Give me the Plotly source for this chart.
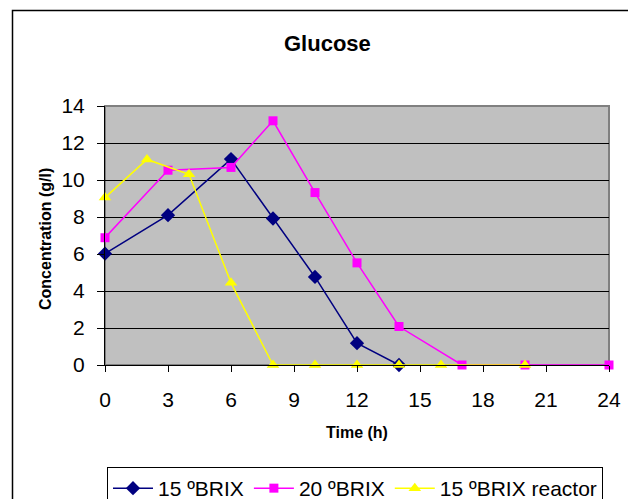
import plotly.graph_objects as go

# Data
t_15 = [0, 3, 6, 8, 10, 12, 14]
g_15 = [6.02, 8.1, 11.13, 7.92, 4.76, 1.18, 0.0]

t_20 = [0, 3, 6, 8, 10, 12, 14, 17, 20, 24]
g_20 = [6.88, 10.53, 10.68, 13.2, 9.32, 5.52, 2.08, 0.0, 0.0, 0.0]

t_r = [0, 2, 4, 6, 8, 10, 12, 14, 16, 20]
g_r = [9.05, 11.11, 10.31, 4.44, 0.0, 0.0, 0.0, 0.0, 0.0, 0.0]

names = ["15 ºBRIX", "20 ºBRIX", "15 ºBRIX reactor"]
x_ticks = [0, 3, 6, 9, 12, 15, 18, 21, 24]
y_ticks = [0, 2, 4, 6, 8, 10, 12, 14]

FONT = "Arial, Liberation Sans, sans-serif"

# plot area in pixels
L, R, T, B = 105, 609, 106, 365
W, H = 628, 499
def px(x):
    return (x - L) / (R - L)
def py(y):
    return (B - y) / (B - T)

fig = go.Figure()
fig.add_trace(go.Scatter(x=t_15, y=g_15, name=names[0], mode="lines+markers",
                         line=dict(color="#000080", width=1.5),
                         marker=dict(symbol="diamond", size=11, color="#000080"),
                         cliponaxis=False))
fig.add_trace(go.Scatter(x=t_20, y=g_20, name=names[1], mode="lines+markers",
                         line=dict(color="#FF00FF", width=1.5),
                         marker=dict(symbol="square", size=9, color="#FF00FF"),
                         cliponaxis=False))
fig.add_trace(go.Scatter(x=t_r, y=g_r, name=names[2], mode="lines+markers",
                         line=dict(color="#FFFF00", width=1.5),
                         marker=dict(symbol="triangle-up", size=11, color="#FFFF00"),
                         cliponaxis=False))

fig.update_layout(
    width=W, height=H,
    margin=dict(l=L, r=W - R, t=T, b=H - B, autoexpand=False),
    paper_bgcolor="white",
    plot_bgcolor="#C0C0C0",
    font=dict(family=FONT, size=21, color="black"),
    showlegend=True,
    legend=dict(orientation="h", x=px(107), y=py(467), xanchor="left", yanchor="top",
                bordercolor="black", borderwidth=1, bgcolor="white",
                font=dict(family=FONT, size=21), itemwidth=40, tracegroupgap=0),
    xaxis=dict(range=[0, 24], tickvals=x_ticks, ticktext=[str(v) for v in x_ticks],
               showgrid=False, zeroline=False, showline=True, linecolor="black", linewidth=1,
               ticks="outside", ticklen=6, tickcolor="black",
               tickfont=dict(family=FONT, size=21), ticklabelstandoff=10),
    yaxis=dict(range=[0, 14], tickvals=y_ticks, ticktext=[str(v) for v in y_ticks],
               showgrid=True, gridcolor="black", gridwidth=1, zeroline=False,
               showline=True, linecolor="black", linewidth=1,
               ticks="outside", ticklen=7, tickcolor="black",
               tickfont=dict(family=FONT, size=21), ticklabelstandoff=8),
    shapes=[
        dict(type="rect", xref="paper", yref="paper", x0=0, x1=1, y0=0, y1=1,
             line=dict(color="#808080", width=2), layer="below"),
        dict(type="rect", xref="paper", yref="paper",
             x0=px(12.5), x1=px(660), y0=py(540), y1=py(10.5),
             line=dict(color="black", width=1.5)),
    ],
    annotations=[
        dict(text="<b>Glucose</b>", xref="paper", yref="paper", x=px(327), y=py(43),
             xanchor="center", yanchor="middle",
             showarrow=False, font=dict(family=FONT, size=22)),
        dict(text="<b>Concentration (g/l)</b>", xref="paper", yref="paper", x=px(45), y=py(239),
             xanchor="center", yanchor="middle",
             showarrow=False, textangle=-90, font=dict(family=FONT, size=16)),
        dict(text="<b>Time (h)</b>", xref="paper", yref="paper", x=px(357), y=py(432),
             xanchor="center", yanchor="middle",
             showarrow=False, font=dict(family=FONT, size=16)),
    ],
)

fig.write_html("out.html", config={"displayModeBar": False},
               post_script="document.body.style.margin='0';document.body.style.overflow='hidden';"
                           "document.documentElement.style.overflow='hidden';")
